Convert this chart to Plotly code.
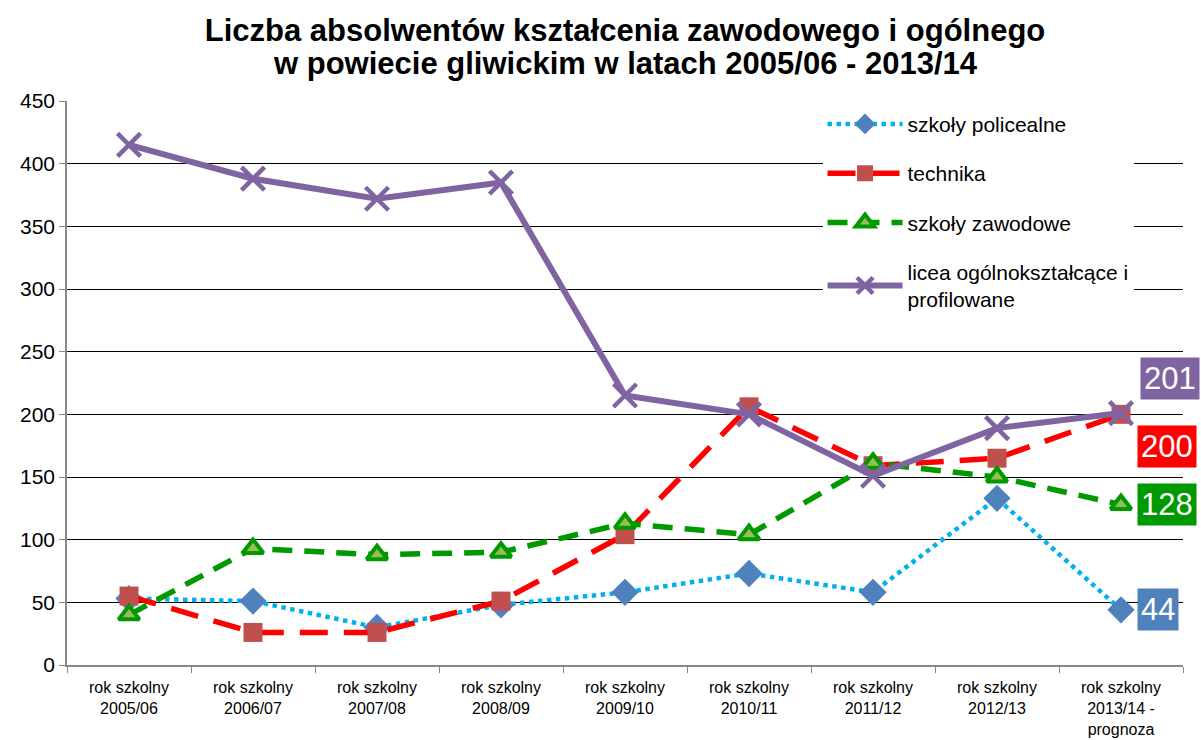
import plotly.graph_objects as go

categories = ["rok szkolny<br>2005/06", "rok szkolny<br>2006/07", "rok szkolny<br>2007/08",
              "rok szkolny<br>2008/09", "rok szkolny<br>2009/10", "rok szkolny<br>2010/11",
              "rok szkolny<br>2011/12", "rok szkolny<br>2012/13", "rok szkolny<br>2013/14 -<br>prognoza"]

policealne = [53, 51, 30, 48, 58, 73, 58, 133, 44]
technika = [55, 26, 26, 51, 104, 206, 159, 165, 200]
zawodowe = [40, 93, 88, 90, 113, 104, 161, 150, 128]
licea = [415, 388, 372, 385, 215, 200, 151, 189, 201]

series_names = ["szkoły policealne", "technika", "szkoły zawodowe",
                "licea ogólnokształcące i<br>profilowane"]

title_line1 = "Liczba absolwentów kształcenia zawodowego i ogólnego"
title_line2 = "w powiecie gliwickim w latach 2005/06 - 2013/14"

FONT = "Liberation Sans, Arial, sans-serif"

fig = go.Figure()

fig.add_trace(go.Scatter(
    x=categories, y=policealne, name=series_names[0], legendgroup="a",
    mode="lines+markers",
    line=dict(color="#00B0F0", width=4.5, dash="dot"),
    marker=dict(symbol="diamond", size=21, color="#4F81BD"),
))
fig.add_trace(go.Scatter(
    x=categories, y=technika, name=series_names[1], legendgroup="b",
    mode="lines+markers",
    line=dict(color="#FF0000", width=5.5, dash="28px,16px"),
    marker=dict(symbol="square", size=19, color="#C0504D"),
))
fig.add_trace(go.Scatter(
    x=categories, y=zawodowe, name=series_names[2], legendgroup="c",
    mode="lines+markers",
    line=dict(color="#009900", width=5.5, dash="20px,12px"),
    marker=dict(symbol="triangle-up", size=18, color="#9BBB59",
                line=dict(color="#009900", width=4)),
))
fig.add_trace(go.Scatter(
    x=categories, y=licea, name=series_names[3], legendgroup="d",
    mode="lines+markers",
    line=dict(color="#8064A2", width=6),
    marker=dict(symbol="x-thin", size=23, color="#8064A2",
                line=dict(color="#8064A2", width=4.5)),
))

# end-of-series value labels
end_labels = [
    (licea, "#8064A2", 35, 19),
    (technika, "#FF0000", -32, 16),
    (zawodowe, "#009900", 0, 16),
    (policealne, "#4F81BD", 0, 16),
]
for vals, col, ys, xs in end_labels:
    fig.add_annotation(
        x=categories[-1], y=vals[-1], xref="x", yref="y",
        text=str(vals[-1]), showarrow=False,
        xanchor="left", yanchor="middle", xshift=xs, yshift=ys,
        bgcolor=col, borderpad=3,
        font=dict(family=FONT, size=31, color="white"),
    )

# second title line (placed in paper coords above the plot area)
fig.add_annotation(
    x=0.5, y=(665 - 63) / (665 - 101), xref="paper", yref="paper",
    text="<b>" + title_line2 + "</b>",
    showarrow=False, xanchor="center", yanchor="middle",
    font=dict(family=FONT, size=31, color="black"),
)

fig.update_layout(
    width=1201, height=740,
    paper_bgcolor="white", plot_bgcolor="white",
    margin=dict(l=67, r=18, t=101, b=75),
    title=dict(
        text="<b>" + title_line1 + "</b>",
        x=0.5, xref="paper", xanchor="center", y=1 - 30 / 740, yref="container",
        yanchor="middle",
        font=dict(family=FONT, size=31, color="black"),
    ),
    font=dict(family=FONT, color="black"),
    showlegend=True,
    legend=dict(
        x=0.677, y=0.995, xanchor="left", yanchor="top",
        bgcolor="white", font=dict(family=FONT, size=21, color="black"),
        tracegroupgap=19, itemwidth=75,
    ),
    xaxis=dict(
        type="category", tickson="boundaries", ticks="outside", ticklen=6,
        tickcolor="#888", showline=True, linecolor="#888", linewidth=1.5,
        showgrid=False, tickfont=dict(family=FONT, size=16, color="black"),
        range=[-0.5, 8.5], ticklabelstandoff=7, automargin=False,
    ),
    yaxis=dict(
        range=[0, 450], dtick=50, showgrid=True, gridcolor="#000000", gridwidth=1,
        showline=True, linecolor="#888", linewidth=1.5,
        ticks="outside", ticklen=6, tickcolor="#888",
        tickfont=dict(family=FONT, size=21, color="black"), zeroline=False,
        automargin=False,
    ),
)

fig.write_html("out.html", config={"displayModeBar": False},
               post_script="document.body.style.margin='0px';")
